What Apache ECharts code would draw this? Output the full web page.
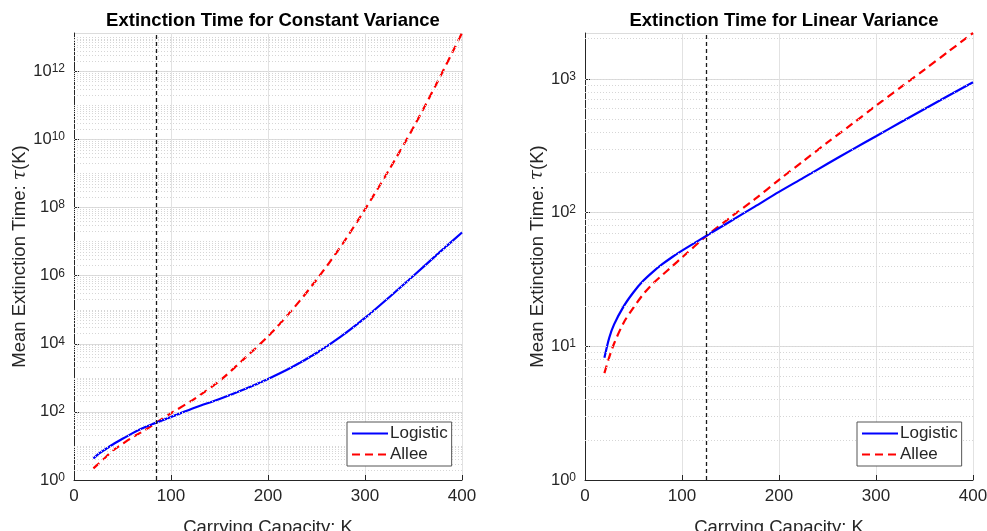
<!DOCTYPE html>
<html>
<head>
<meta charset="utf-8">
<script src="https://cdn.jsdelivr.net/npm/echarts@6/dist/echarts.min.js"></script>
<style>
  html, body { margin: 0; padding: 0; background: #fff; }
  #chart { width: 987px; height: 531px; }
</style>
</head>
<body>
<div id="chart"></div>
<script>
// carrying capacity K (x values shared by both panels)
const capacity = [20, 25, 30, 40, 50, 60, 70, 80, 90, 100, 125, 150, 175, 200, 225, 250, 275, 300, 325, 350, 375, 400];

// left panel: constant variance
const logisticConst = [4.3, 5.8, 7.2, 11, 16.2, 23.4, 32.4, 42.7, 55, 70.8, 135, 240, 457, 933, 2090, 5370, 16200, 57500, 234000, 1.0e6, 4.37e6, 1.86e7];
const alleeConst = [2.19, 2.95, 3.98, 7.24, 11.5, 17.8, 25.7, 38.9, 60.3, 91.2, 251, 813, 3550, 16600, 1.0e5, 7.59e5, 7.24e6, 8.91e7, 1.32e9, 2.29e10, 5.13e11, 1.35e13];

// right panel: linear variance
const logisticLin = [8.2, 11.6, 14.6, 20.0, 25.4, 30.9, 36.1, 41.3, 46.6, 52.0, 67.0, 86.3, 111, 143, 182, 232, 295, 373, 473, 597, 752, 944];
const alleeLin = [6.3, 8.3, 10.5, 15.1, 19.5, 24.5, 29.5, 34.3, 39.8, 46.2, 66.7, 92.3, 126, 176, 243, 335, 459, 631, 861, 1175, 1611, 2208];

const titles = ['Extinction Time for Constant Variance', 'Extinction Time for Linear Variance'];
const thresholdK = [85, 125];   // dashed vertical lines
const yMax = [1.35e13, 2208];
const yStep = [2, 1];           // decades between labelled ticks

const font = '"Liberation Sans", Arial, Helvetica, sans-serif';
const ink = '#262626';

const chart = echarts.init(document.getElementById('chart'), null, { renderer: 'canvas' });

// dotted minor grid lines at 2..9 x 10^k (and odd decades on the left panel)
function minorGrid(max) {
  const out = [];
  for (let e = 0; Math.pow(10, e) < max; e++) {
    for (let m = 2; m <= 10; m++) {
      const v = m * Math.pow(10, e);
      if (v < max) out.push({ yAxis: v });
    }
  }
  return out;
}

function yLabel(v) {
  const e = Math.round(Math.log10(v));
  return '{b|10}{s|' + e + '}';
}

const grids = [
  { left: 74, top: 33, width: 388, height: 447, containLabel: false, outerBoundsMode: 'none' },
  { left: 585, top: 33, width: 388, height: 447, containLabel: false, outerBoundsMode: 'none' }
];

const xAxes = grids.map((g, i) => ({
  type: 'value',
  gridIndex: i,
  min: 0, max: 400, interval: 100,
  name: 'Carrying Capacity: K',
  nameLocation: 'middle',
  nameGap: 38,
  nameTextStyle: { fontSize: 18.5, color: ink, fontFamily: font },
  axisLine: { show: true, lineStyle: { color: ink, width: 1 } },
  axisTick: { show: true, inside: true, length: 5, lineStyle: { color: ink } },
  axisLabel: { fontSize: 17, color: ink, fontFamily: font, margin: 8 },
  splitLine: { show: true, lineStyle: { color: '#e2e2e2', width: 1 } }
}));

const yAxes = grids.map((g, i) => ({
  type: 'log',
  logBase: 10,
  gridIndex: i,
  min: 1, max: yMax[i], interval: yStep[i],
  name: 'Mean Extinction Time: {t|τ}(K)',
  nameLocation: 'middle',
  nameGap: i === 0 ? 43 : 36,
  nameTextStyle: { fontSize: 18.5, color: ink, fontFamily: font, rich: { t: { fontSize: 18.5, color: ink, fontStyle: 'italic', fontFamily: '"DejaVu Serif", serif' } } },
  axisLine: { show: true, lineStyle: { color: ink, width: 1 } },
  axisTick: { show: true, inside: true, length: 5, lineStyle: { color: ink } },
  axisLabel: {
    formatter: yLabel, showMaxLabel: false, margin: 9,
    rich: {
      b: { fontSize: 16.5, color: ink, fontFamily: font, lineHeight: 17, padding: [5, 0, 0, 0], verticalAlign: 'bottom' },
      s: { fontSize: 12, color: ink, fontFamily: font, lineHeight: 12, verticalAlign: 'top' }
    }
  },
  splitLine: { show: true, lineStyle: { color: '#dcdcdc', width: 1 } }
}));

const series = [];
const panels = [[logisticConst, alleeConst], [logisticLin, alleeLin]];
panels.forEach((p, i) => {
  // minor grid
  series.push({
    type: 'line', xAxisIndex: i, yAxisIndex: i, data: [], z: 1, silent: true,
    markLine: {
      silent: true, symbol: 'none', label: { show: false },
      lineStyle: { color: '#d6d6d6', type: [1, 2], width: 1 },
      data: minorGrid(yMax[i])
    }
  });
  // threshold line
  series.push({
    type: 'line', xAxisIndex: i, yAxisIndex: i, data: [], z: 2, silent: true,
    markLine: {
      silent: true, symbol: 'none', label: { show: false },
      lineStyle: { color: '#1a1a1a', type: [4, 3], width: 1.3 },
      data: [{ xAxis: thresholdK[i] }]
    }
  });
  series.push({
    name: 'Logistic', type: 'line', xAxisIndex: i, yAxisIndex: i, z: 4,
    data: capacity.map((k, j) => [k, p[0][j]]),
    symbol: 'none', smooth: 0.3,
    lineStyle: { color: '#0000ff', width: 2.2 },
    itemStyle: { color: '#0000ff' }
  });
  series.push({
    name: 'Allee', type: 'line', xAxisIndex: i, yAxisIndex: i, z: 3,
    data: capacity.map((k, j) => [k, p[1][j]]),
    symbol: 'none', smooth: 0.3,
    lineStyle: { color: '#ff0000', width: 2.2, type: [8, 5] },
    itemStyle: { color: '#ff0000' }
  });
});

const legendBase = {
  data: ['Logistic', 'Allee'],
  orient: 'vertical',
  top: 422,
  z: 20,
  padding: [3, 4, 3, 4],
  itemWidth: 36, itemHeight: 14, itemGap: 4,
  backgroundColor: '#fff',
  borderColor: '#555', borderWidth: 1, borderRadius: 0,
  itemStyle: { opacity: 0 },
  textStyle: { fontSize: 17, color: ink, fontFamily: font, padding: [0, 0, 0, -3] },
  selectedMode: false
};

chart.setOption({
  animation: false,
  backgroundColor: '#fff',
  title: titles.map((t, i) => ({
    text: t,
    left: grids[i].left + grids[i].width / 2,
    top: 6,
    textAlign: 'center',
    textStyle: { fontSize: 18.5, fontWeight: 'bold', color: '#000', fontFamily: font }
  })),
  grid: grids,
  xAxis: xAxes,
  yAxis: yAxes,
  legend: [
    Object.assign({}, legendBase, { left: 347 }),
    Object.assign({}, legendBase, { left: 857 })
  ],
  series: series
});
</script>
</body>
</html>
